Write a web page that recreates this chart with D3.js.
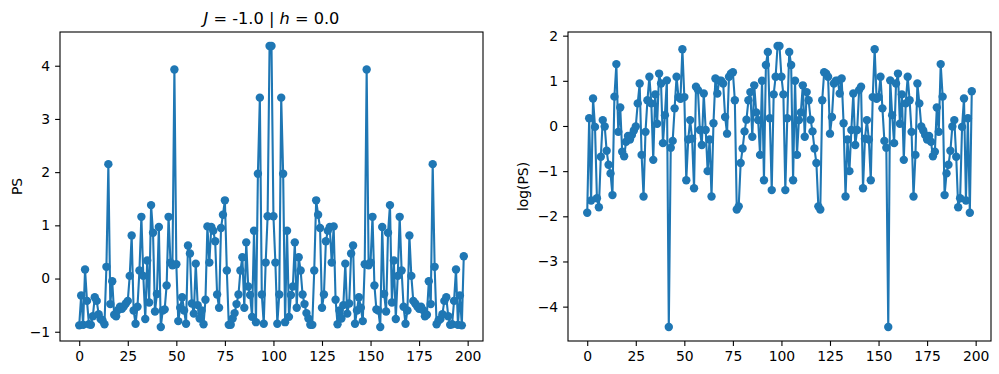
<!DOCTYPE html>
<html>
<head>
<meta charset="utf-8">
<script src="https://cdn.jsdelivr.net/npm/d3@7"></script>
<style>
  html, body { margin: 0; padding: 0; background: #fff; }
  svg { display: block; font-family: "DejaVu Sans", sans-serif; }
  .axis path { display: none; }
  .axis line { stroke: #000; stroke-width: 1.1; }
  .axis text { font-size: 13.9px; fill: #000; font-family: "DejaVu Sans", sans-serif; }
</style>
</head>
<body>
<div id="chart"></div>
<script>
// PS per index (left panel)
var psValues = [
  -0.88, -0.32, -0.87, 0.17, -0.42, -0.86, -0.87, -0.71, -0.35, -0.42,
  -0.67, -0.76, -0.79, -0.86, 0.22, 2.15, -0.48, -0.05, -0.68, -0.71,
  -0.59, -0.53, -0.57, -0.52, -0.47, -0.42, 0.05, 0.81, -0.6, -0.85,
  -0.53, 0.15, 1.16, 0.05, -0.76, 0.34, -0.45, 1.38, 0.86, -0.62,
  -0.29, 0.97, -0.91, -0.6, -0.58, -0.13, 1.16, 0.3, 0.25, 3.93,
  0.27, -0.8, -0.55, -0.35, -0.6, -0.85, 0.62, 0.47, -0.47, -0.66,
  0.28, -0.5, -0.75, -0.6, -0.86, -0.4, 0.98, 0.3, 0.97, 0.9,
  0.7, -0.3, -0.55, 0.95, 1.2, 1.47, 0.15, -0.87, -0.87, -0.75,
  -0.65, -0.48, -0.3, 0.15, 0.4, -0.55, 0.68, -0.15, -0.31, -0.72,
  0.9, -0.82, 1.97, 3.4, -0.3, -0.85, 0.3, 1.17, 4.37,
  4.37, 1.17, 0.3, -0.85, -0.3, 3.4, 1.97, -0.82, 0.9, -0.72,
  -0.31, -0.15, 0.68, -0.55, 0.4, 0.15, -0.3, -0.48, -0.65, -0.75,
  -0.87, -0.87, 0.15, 1.47, 1.2, 0.95, -0.55, -0.3, 0.7, 0.9,
  0.97, 0.3, 0.98, -0.4, -0.86, -0.6, -0.75, -0.5, 0.28, -0.66,
  -0.47, 0.47, 0.62, -0.85, -0.6, -0.35, -0.55, -0.8, 0.27, 3.93,
  0.25, 0.3, 1.16, -0.13, -0.58, -0.6, -0.91, 0.97, -0.29, -0.62,
  0.86, 1.38, -0.45, 0.34, -0.76, 0.05, 1.16, 0.15, -0.53, -0.85,
  -0.6, 0.81, 0.05, -0.42, -0.47, -0.52, -0.57, -0.53, -0.59, -0.71,
  -0.68, -0.05, -0.48, 2.15, 0.22, -0.86, -0.79, -0.76, -0.67, -0.42,
  -0.35, -0.71, -0.87, -0.86, -0.42, 0.17, -0.87, -0.32, -0.88,
  0.42
];

// log(PS) per index (right panel)
var logPsValues = [
  -1.92, 0.17, -1.65, 0.61, -0.02, -1.6, -1.8, -0.68, 0.13, -0.01,
  -0.55, -0.86, -1.05, -1.53, 0.65, 1.37, -0.13, 0.41, -0.57, -0.67,
  -0.35, -0.22, -0.3, -0.2, -0.1, -0.01, 0.5, 0.94, -0.64, -1.56,
  -0.13, 0.57, 1.09, 0.5, -0.75, 0.7, 0.05, 1.16, 0.94, -0.38,
  0.24, 1.01, -4.45, -0.48, -0.33, 0.39, 1.09, 0.64, 0.6, 1.7,
  0.64, -1.2, -0.3, 0.13, -0.28, -1.38, 0.87, 0.8, -0.09, -0.42,
  0.72, -0.09, -1.0, -0.3, -1.56, 0.06, 1.05, 0.72, 1.0, 1.0,
  0.94, 0.2, -0.17, 1.09, 1.16, 1.19, 0.57, -1.85, -1.78, -0.82,
  -0.5, -0.12, 0.14, 0.57, 0.75, -0.24, 0.9, 0.3, 0.13, -0.64,
  1.0, -1.2, 1.35, 1.64, 0.17, -1.42, 0.7, 1.09, 1.77,
  1.77, 1.09, 0.7, -1.42, 0.17, 1.64, 1.35, -1.2, 1.0, -0.64,
  0.13, 0.3, 0.9, -0.24, 0.75, 0.57, 0.14, -0.12, -0.5, -0.82,
  -1.78, -1.85, 0.57, 1.19, 1.16, 1.09, -0.17, 0.2, 0.94, 1.0,
  1.0, 0.72, 1.05, 0.06, -1.56, -0.3, -1.0, -0.09, 0.72, -0.42,
  -0.09, 0.8, 0.87, -1.38, -0.28, 0.13, -0.3, -1.2, 0.64, 1.7,
  0.6, 0.64, 1.09, 0.39, -0.33, -0.48, -4.45, 1.01, 0.24, -0.38,
  0.94, 1.16, 0.05, 0.7, -0.75, 0.5, 1.09, 0.57, -0.13, -1.56,
  -0.64, 0.94, 0.5, -0.01, -0.1, -0.2, -0.3, -0.22, -0.35, -0.67,
  -0.57, 0.41, -0.13, 1.37, 0.65, -1.53, -1.05, -0.86, -0.55, -0.01,
  0.13, -0.68, -1.8, -1.6, -0.02, 0.61, -1.65, 0.17, -1.92,
  0.77
];

var xTicks = [0, 25, 50, 75, 100, 125, 150, 175, 200];
var psTicks = [-1, 0, 1, 2, 3, 4];
var logPsTicks = [-4, -3, -2, -1, 0, 1, 2];

var width = 999, height = 374;
var plotTop = 32, plotBottom = 341;
var color = "#1f77b4";

var svg = d3.select("#chart").append("svg")
  .attr("width", width)
  .attr("height", height);

// matplotlib-like 5% padding around the data range
function padded(ext) {
  var pad = (ext[1] - ext[0]) * 0.05;
  return [ext[0] - pad, ext[1] + pad];
}

function drawPanel(values, yTicks, left, right, yLabel, labelX) {
  var idx = d3.range(values.length);

  var x = d3.scaleLinear()
    .domain(padded(d3.extent(idx)))
    .range([left, right]);
  var y = d3.scaleLinear()
    .domain(padded(d3.extent(values)))
    .range([plotBottom, plotTop]);

  var g = svg.append("g");

  // x axis
  g.append("g")
    .attr("class", "axis")
    .attr("transform", "translate(0," + plotBottom + ")")
    .call(d3.axisBottom(x).tickValues(xTicks).tickSize(4.9).tickPadding(4.9)
      .tickFormat(d3.format("d")));

  // y axis
  g.append("g")
    .attr("class", "axis")
    .attr("transform", "translate(" + left + ",0)")
    .call(d3.axisLeft(y).tickValues(yTicks).tickSize(4.9).tickPadding(4.9)
      .tickFormat(function(d) { return d < 0 ? "\u2212" + Math.abs(d) : d; }));

  // line + markers
  var line = d3.line()
    .x(function(d, i) { return x(i); })
    .y(function(d) { return y(d); });

  g.append("path")
    .datum(values)
    .attr("d", line)
    .attr("fill", "none")
    .attr("stroke", color)
    .attr("stroke-width", 2.1)
    .attr("stroke-linejoin", "round");

  g.selectAll("circle")
    .data(values)
    .enter()
    .append("circle")
      .attr("cx", function(d, i) { return x(i); })
      .attr("cy", function(d) { return y(d); })
      .attr("r", 4.2)
      .attr("fill", color);

  // frame
  g.append("rect")
    .attr("x", left)
    .attr("y", plotTop)
    .attr("width", right - left)
    .attr("height", plotBottom - plotTop)
    .attr("fill", "none")
    .attr("stroke", "#000")
    .attr("stroke-width", 1.1);

  g.append("text")
    .attr("transform", "translate(" + labelX + "," + ((plotTop + plotBottom) / 2) + ") rotate(-90)")
    .attr("text-anchor", "middle")
    .style("font-size", "13.9px")
    .text(yLabel);
}

drawPanel(psValues, psTicks, 60, 483, "PS", 22);
drawPanel(logPsValues, logPsTicks, 568, 991, "log(PS)", 528);

// title with italic J and h, like mathtext
var title = svg.append("text")
  .attr("x", (60 + 483) / 2)
  .attr("y", 24)
  .attr("text-anchor", "middle")
  .style("font-size", "16.2px");
title.append("tspan").style("font-style", "italic").text("J");
title.append("tspan").text(" = -1.0 | ");
title.append("tspan").style("font-style", "italic").text("h");
title.append("tspan").text(" = 0.0");
</script>
</body>
</html>
